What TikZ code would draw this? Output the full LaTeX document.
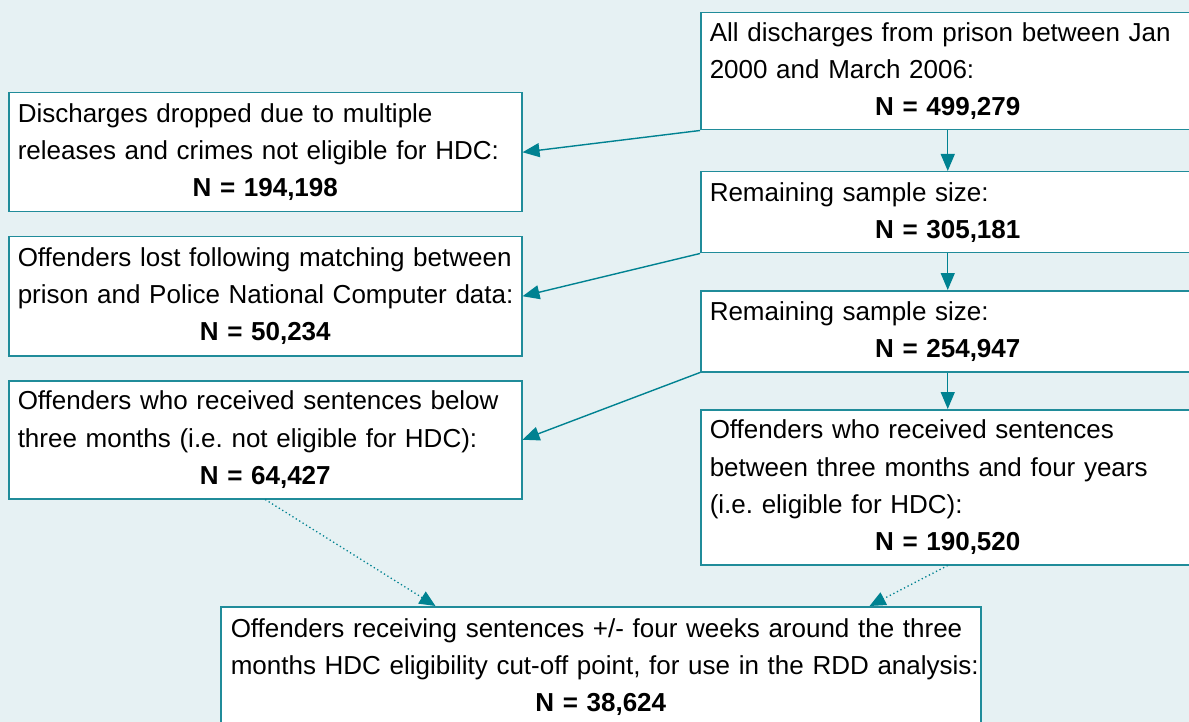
\documentclass[tikz,border=0pt]{standalone}
\usepackage{fontspec}
\setmainfont{Liberation Sans}
\usetikzlibrary{arrows.meta,calc}
\definecolor{bgc}{RGB}{230,241,243}
\definecolor{boxc}{RGB}{32,140,154}
\definecolor{arrc}{RGB}{0,130,145}
\definecolor{dotc}{RGB}{40,150,165}
\newcommand\Nline[1]{\makebox[\linewidth][c]{\textbf{#1}}}
\newcommand\Tline[1]{\makebox[\linewidth][l]{#1}}
\frenchspacing
\begin{document}
\begin{tikzpicture}[x=1pt,y=-1pt,
  flowbox/.style={draw=boxc, line width=1.5pt, fill=white, anchor=north west,
    inner xsep=9pt, inner ysep=0pt, align=left,
    font=\fontsize{26}{37.3}\selectfont},
  lbox/.style={flowbox, text width=495pt},
  rbox/.style={flowbox, text width=476pt},
  bbox/.style={flowbox, inner xsep=10pt, text width=740pt},
  arr/.style={draw=arrc, line width=1.4pt, -{Triangle[length=17pt,width=14pt]}, arrc},
  darr/.style={draw=dotc, line width=1.3pt, dash pattern=on 1.3pt off 2.7pt,
    -{Triangle[length=16pt,width=14pt]}, arrc}
]
\useasboundingbox (0,0) rectangle (1189,722);
\fill[bgc] (0,0) rectangle (1189,722);
\begin{scope}
\clip (0,0) rectangle (1189,722);
\node[rbox, minimum height=117pt] (A) at (700,12)
  {\Tline{All discharges from prison between Jan}\\\Tline{2000 and March 2006:}\\\Nline{N = 499,279}};
\node[rbox, minimum height=81pt] (B) at (700,171)
  {\Tline{Remaining sample size:}\\\Nline{N = 305,181}};
\node[rbox, minimum height=81pt] (C) at (700,290)
  {\Tline{Remaining sample size:}\\\Nline{N = 254,947}};
\node[rbox, minimum height=155pt] (D) at (700,409)
  {\Tline{Offenders who received sentences}\\\Tline{between three months and four years}\\\Tline{(i.e. eligible for HDC):}\\\Nline{N = 190,520}};
\node[lbox, minimum height=119pt] (L1) at (8,92)
  {\Tline{Discharges dropped due to multiple}\\\Tline{releases and crimes not eligible for HDC:}\\\Nline{N = 194,198}};
\node[lbox, minimum height=119pt] (L2) at (8,236)
  {\Tline{Offenders lost following matching between}\\\Tline{prison and Police National Computer data:}\\\Nline{N = 50,234}};
\node[lbox, minimum height=118pt] (L3) at (8,380)
  {\Tline{Offenders who received sentences below}\\\Tline{three months (i.e. not eligible for HDC):}\\\Nline{N = 64,427}};
\node[bbox, minimum height=121pt] (F) at (220,606)
  {\Tline{Offenders receiving sentences +/- four weeks around the three}\\\Tline{months HDC eligibility cut-off point, for use in the RDD analysis:}\\\Nline{N = 38,624}};
\coordinate (f1) at ($(F.north west)!0.283!(F.north east)$);
\coordinate (f2) at ($(F.north west)!0.853!(F.north east)$);
\draw[arr] (A.south west) -- (L1.east);
\draw[arr] (B.south west) -- (L2.east);
\draw[arr] (C.south west) -- (L3.east);
\draw[arr] (A.south) -- (B.north);
\draw[arr] (B.south) -- (C.north);
\draw[arr] (C.south) -- (D.north);
\draw[darr] (L3.south) -- (f1);
\draw[darr] (D.south) -- (f2);
\end{scope}
\end{tikzpicture}
\end{document}
